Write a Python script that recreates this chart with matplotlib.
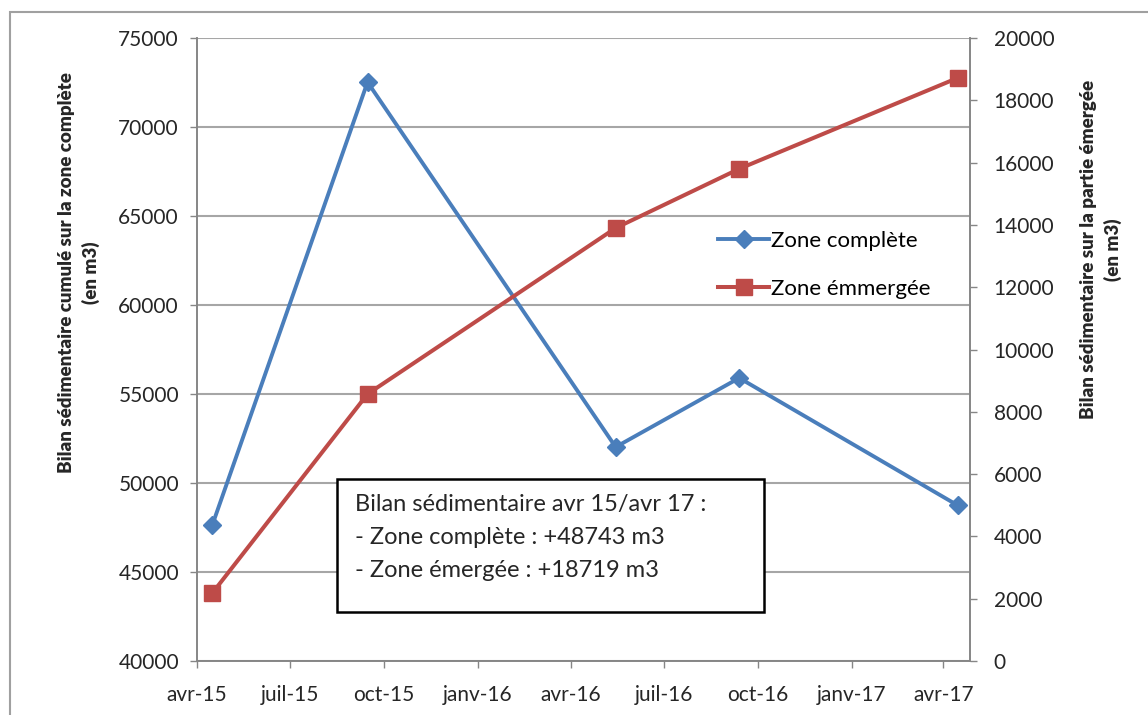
import matplotlib
matplotlib.use('Agg')
import matplotlib.pyplot as plt
import pandas as pd
from matplotlib.patches import Rectangle

# Data
dates = ['2015-04-16', '2015-09-15', '2016-05-15', '2016-09-13', '2017-04-15']
zone_complete = [47640, 72520, 52020, 55900, 48743]
zone_emergee = [2180, 8570, 13900, 15800, 18719]

tick_dates = ['2015-04-01', '2015-07-01', '2015-10-01', '2016-01-01', '2016-04-01',
              '2016-07-01', '2016-10-01', '2017-01-01', '2017-04-01']
tick_labels = ['avr-15', 'juil-15', 'oct-15', 'janv-16', 'avr-16',
               'juil-16', 'oct-16', 'janv-17', 'avr-17']

left_ticks = [40000, 45000, 50000, 55000, 60000, 65000, 70000, 75000]
right_ticks = [0, 2000, 4000, 6000, 8000, 10000, 12000, 14000, 16000, 18000, 20000]

summary_lines = ['Bilan sédimentaire avr 15/avr 17 :',
                 '- Zone complète : +48743 m3',
                 '- Zone émergée : +18719 m3']

x = pd.to_datetime(dates)

plt.rcParams['font.family'] = ['Lato', 'DejaVu Sans']

blue = '#4A7EBB'
red = '#BE4B48'
grid_col = '#A6A6A6'
spine_col = '#868686'
text_col = '#262626'

fig = plt.figure(figsize=(11.48, 7.15), dpi=100)
ax = fig.add_axes([197/1148, 1 - 661/715, (970-197)/1148, (661-38)/715])
ax2 = ax.twinx()

# outer chart border
fig.patches.append(Rectangle((10/1148, -0.1), 2, 1.1 - 12/715, transform=fig.transFigure,
                             fill=False, edgecolor='#A0A0A0', linewidth=1.5))

l1, = ax.plot(x, zone_complete, color=blue, linewidth=2.8, marker='D', markersize=9,
              label='Zone complète', zorder=3)
l2, = ax2.plot(x, zone_emergee, color=red, linewidth=2.9, marker='s', markersize=12,
               label='Zone émmergée', zorder=3)

ax.set_xlim(pd.Timestamp('2015-04-01'), pd.Timestamp('2017-04-27'))
ax.set_ylim(40000, 75000)
ax2.set_ylim(0, 20000)
ax.set_yticks(left_ticks)
ax2.set_yticks(right_ticks)
ax.set_xticks(pd.to_datetime(tick_dates))
ax.set_xticklabels(tick_labels)

ax.grid(axis='y', color=grid_col, linewidth=1.5)
ax.set_axisbelow(True)

for a in (ax, ax2):
    a.spines['top'].set_visible(False)
    for s in ('left', 'right', 'bottom'):
        a.spines[s].set_color(spine_col)
        a.spines[s].set_linewidth(1.2)
    a.tick_params(colors=spine_col, labelcolor=text_col, labelsize=15, length=5, width=1)
ax.tick_params(axis='x', pad=12)
ax.tick_params(axis='y', pad=8)
ax2.tick_params(axis='y', pad=12)

ax.set_ylabel('Bilan sédimentaire cumulé sur la zone complète\n(en m3)',
              fontsize=13.5, fontweight='heavy', color=text_col, linespacing=1.45)
ax.yaxis.set_label_coords(-0.126, 0.623)
ax2.set_ylabel('Bilan sédimentaire sur la partie émergée\n(en m3)',
               fontsize=13.5, fontweight='heavy', color=text_col, linespacing=1.45)
ax2.yaxis.set_label_coords(1.142, 0.66)

ax.legend(handles=[l1, l2], loc='center left', bbox_to_anchor=(0.674, 0.636), frameon=False,
          fontsize=16, labelspacing=1.25, handlelength=2.3, handletextpad=0.1,
          borderpad=0, borderaxespad=0)

# summary box
ax.add_patch(Rectangle((0.181, 0.079), 0.552, 0.213, transform=ax.transAxes,
                       facecolor='white', edgecolor='black', linewidth=1.8, zorder=5))
for i, line in enumerate(summary_lines):
    ax.text(0.205, 0.252 - i * 0.0535, line, transform=ax.transAxes, fontsize=17,
            color=text_col, va='center', ha='left', zorder=6)

fig.savefig('out.png', dpi=100)
